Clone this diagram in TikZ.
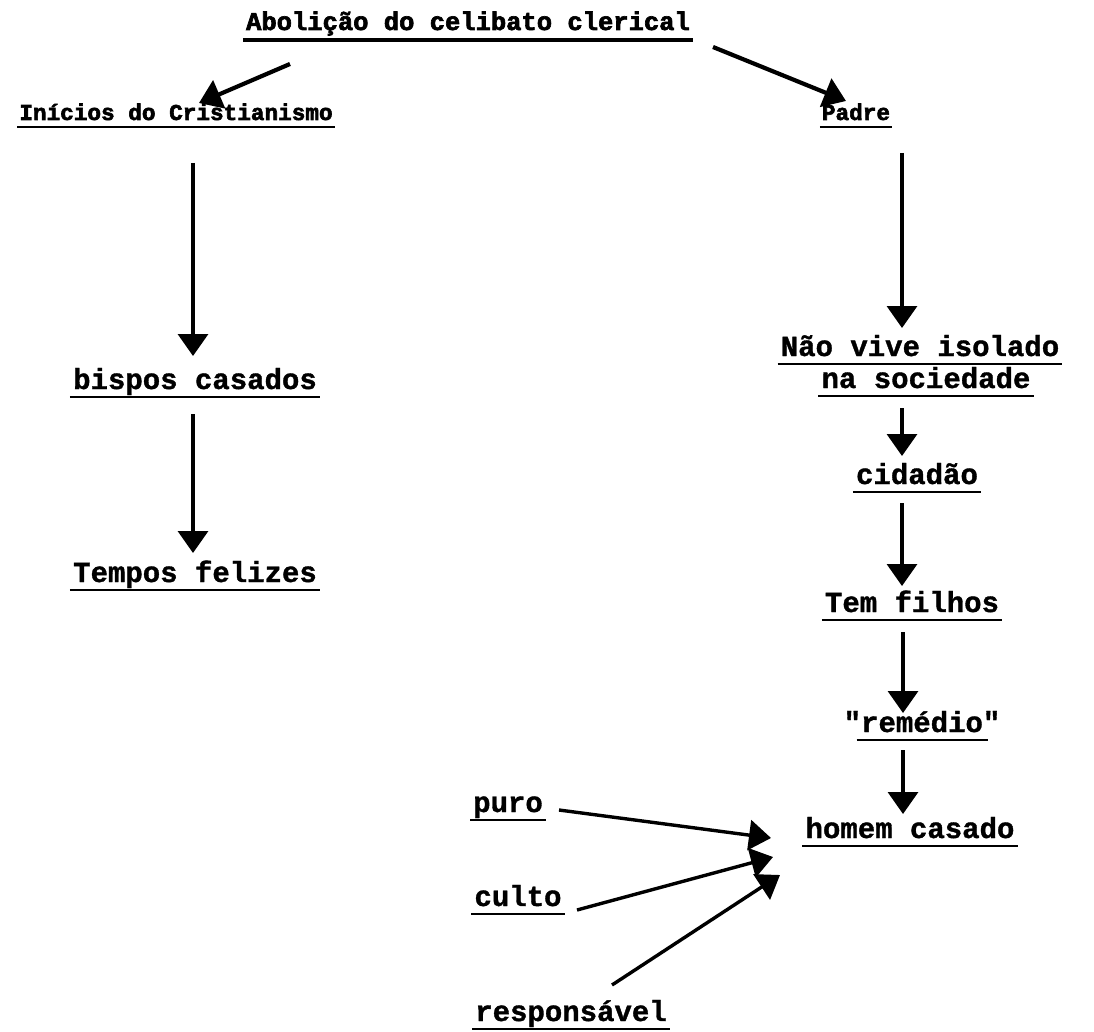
\documentclass[tikz,border=0pt]{standalone}
\usepackage{fontspec}
\setmonofont{Liberation Mono}[BoldFeatures={FakeBold=1.2}]
\newfontfamily\heavymono{Liberation Mono}[BoldFeatures={FakeBold=2.6}]
\usetikzlibrary{arrows.meta}
\begin{document}
\begin{tikzpicture}[x=1pt,y=-1pt,
  lbl/.style={inner sep=0pt,anchor=base,font=\ttfamily\bfseries\fontsize{29}{33}\selectfont},
  lblmid/.style={lbl,font=\heavymono\bfseries\fontsize{25.5}{29}\selectfont},
  lblsmall/.style={lbl,font=\heavymono\bfseries\fontsize{22.7}{26}\selectfont},
  ulline/.style={line width=2.8pt},
  arr/.style={line width=3.4pt,-{Triangle[length=22pt,width=30pt]}}]
\useasboundingbox (0,0) rectangle (1094,1032);

% concepts
\node[lblmid]   (title)  at (468,30)  {Abolição do celibato clerical};
\node[lblsmall] (inicios) at (176,120) {Inícios do Cristianismo};
\node[lblsmall] (padre)  at (856,120) {Padre};
\node[lbl] (bispos)  at (195,389) {bispos casados};
\node[lbl] (tempos)  at (195,582) {Tempos felizes};
\node[lbl] (naovive) at (920,356) {Não vive isolado};
\node[lbl] (nasoc)   at (926,388) {na sociedade};
\node[lbl] (cidadao) at (917,484) {cidadão};
\node[lbl] (tem)     at (912,612) {Tem filhos};
\node[lbl] (remedio) at (922,732) {"remédio"};
\node[lbl] (homem)   at (910,838) {homem casado};
\node[lbl] (puro)    at (508,812) {puro};
\node[lbl] (culto)   at (518,906) {culto};
\node[lbl] (resp)    at (571,1021) {responsável};

% underlines
\draw[ulline,line width=3.4pt] ([shift={(-3,10)}]title.base west) -- ([shift={(3,10)}]title.base east);
\foreach \n in {inicios,padre}
  \draw[ulline] ([shift={(-2,7)}]\n.base west) -- ([shift={(2,7)}]\n.base east);
\foreach \n in {bispos,tempos,naovive,nasoc,cidadao,tem,homem,puro,culto,resp}
  \draw[ulline] ([shift={(-3,8)}]\n.base west) -- ([shift={(3,8)}]\n.base east);
\draw[ulline] ([shift={(13,8)}]remedio.base west) -- ([shift={(-13,8)}]remedio.base east);

% connectors
\draw[arr,line width=4.2pt] ([shift={(-178,34)}]title.base) -- ([shift={(23,-17)}]inicios.base);
\draw[arr,line width=4.2pt] ([shift={(245,17)}]title.base) -- ([shift={(-10,-19)}]padre.base);
\draw[arr] ([shift={(17,43)}]inicios.base) -- ([shift={(-2,-33)}]bispos.base);
\draw[arr] ([shift={(-2,25)}]bispos.base) -- ([shift={(-2,-29)}]tempos.base);
\draw[arr] ([shift={(46,33)}]padre.base) -- ([shift={(-18,-28)}]naovive.base);
\draw[arr] ([shift={(-24,20)}]nasoc.base) -- ([shift={(-15,-28)}]cidadao.base);
\draw[arr] ([shift={(-15,19)}]cidadao.base) -- ([shift={(-10,-26)}]tem.base);
\draw[arr] ([shift={(-9,20)}]tem.base) -- ([shift={(-19,-19)}]remedio.base);
\draw[arr] ([shift={(-19,18)}]remedio.base) -- ([shift={(-7,-24)}]homem.base);
\draw[arr] ([shift={(51,-2)}]puro.base) -- ([shift={(-139,0)}]homem.base);
\draw[arr] ([shift={(59,4)}]culto.base) -- ([shift={(-137,19)}]homem.base);
\draw[arr] ([shift={(41,-36)}]resp.base) -- ([shift={(-130,37)}]homem.base);
\end{tikzpicture}
\end{document}
